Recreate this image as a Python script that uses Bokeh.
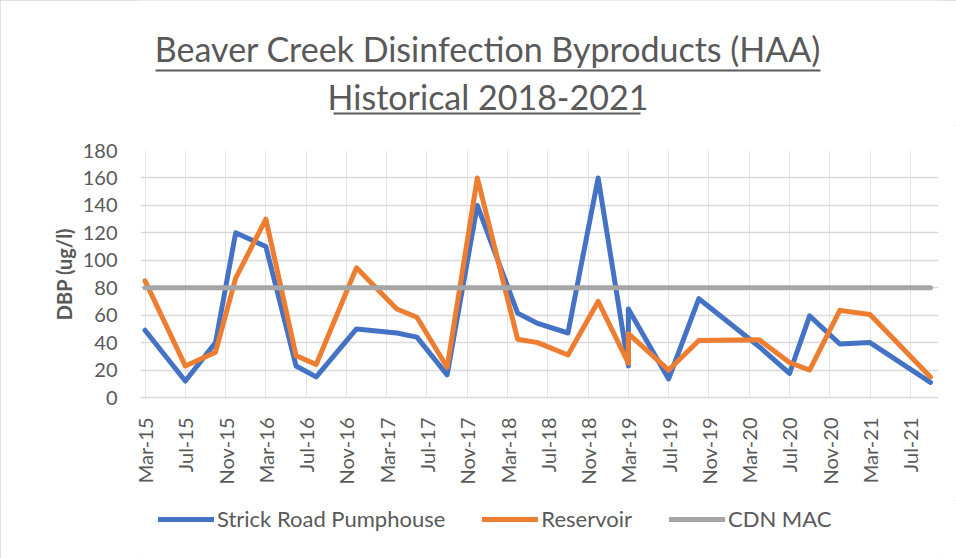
import math
import pandas as pd
from bokeh.plotting import figure
from bokeh.layouts import column
from bokeh.models import (ColumnDataSource, Range1d, FixedTicker, Legend, LegendItem)
from bokeh.core.properties import value
from bokeh.embed import file_html
from bokeh.resources import INLINE

# ---- data ----
dates = ["2015-03", "2015-07", "2015-10", "2015-12", "2016-03", "2016-06", "2016-08", "2016-12",
         "2017-04", "2017-06", "2017-09", "2017-12", "2018-04", "2018-06", "2018-09", "2018-12",
         "2019-03", "2019-03", "2019-07", "2019-10", "2020-04", "2020-07", "2020-09", "2020-12",
         "2021-03", "2021-09"]
strick_road = [49, 12, 40, 120, 110, 23, 15, 50,
               47, 44, 16.5, 140, 61.5, 54, 47, 160,
               23, 64.5, 13.5, 72, 37, 17.5, 59.5, 39,
               40, 11]
reservoir = [85, 23, 33, 87, 130, 30.5, 24, 94.5,
             64.5, 58.5, 22, 160, 42.5, 40, 31, 70,
             25, 46.5, 20, 41.5, 42, 25.5, 20, 63.5,
             60.5, 15]
cdn_mac = [80, 80, 80, 80, 80, 80, 80, 80,
           80, 80, 80, 80, 80, 80, 80, 80,
           80, 80, 80, 80, 80, 80, 80, 80,
           80, 80]
tick_labels = ["Mar-15", "Jul-15", "Nov-15", "Mar-16", "Jul-16", "Nov-16", "Mar-17", "Jul-17",
               "Nov-17", "Mar-18", "Jul-18", "Nov-18", "Mar-19", "Jul-19", "Nov-19", "Mar-20",
               "Jul-20", "Nov-20", "Mar-21", "Jul-21"]
y_ticks = [0, 20, 40, 60, 80, 100, 120, 140, 160, 180]
title_lines = ["Beaver Creek Disinfection Byproducts (HAA)", "Historical 2018-2021"]
series_names = ["Strick Road Pumphouse", "Reservoir", "CDN MAC"]
colors = ["#4472C4", "#ED7D31", "#A5A5A5"]

# month index (Excel date axis with base unit = months)
d = pd.to_datetime(dates, format="%Y-%m")
base = d[0]
month_idx = [(x.year - base.year) * 12 + (x.month - base.month) for x in d]
td = pd.to_datetime(tick_labels, format="%b-%y")
tick_idx = [(x.year - base.year) * 12 + (x.month - base.month) for x in td]

src = ColumnDataSource(dict(m=month_idx, strick=strick_road, res=reservoir, mac=cdn_mac))
series_cols = ["strick", "res", "mac"]

FONT = "Lato"
TXT = "#595959"
W = 956
LEFT, RIGHT = 140, 18
TITLE_H, MAIN_H, LEG_H = 125, 375, 58


def bare(fig):
    fig.outline_line_color = None
    fig.xgrid.grid_line_color = None
    fig.ygrid.grid_line_color = None
    return fig


# ---------- title strip (page pixel coordinates, y downward) ----------
t = bare(figure(width=W, height=TITLE_H, output_backend="svg", toolbar_location=None,
                x_range=Range1d(LEFT, W - RIGHT), y_range=Range1d(TITLE_H, 0),
                min_border_left=LEFT, min_border_right=RIGHT, min_border_top=0,
                min_border_bottom=0, x_axis_type=None, y_axis_type=None))
title_src = ColumnDataSource(dict(x=[487.5, 487.5], y=[48, 96], text=title_lines,
                                  x0=[155, 333], x1=[820, 640], yu=[70, 113]))
t.text(x="x", y="y", text="text", source=title_src, text_align="center",
       text_baseline="middle", text_font=value(FONT), text_font_size="34px",
       text_color=TXT)
t.segment(x0="x0", y0="yu", x1="x1", y1="yu", source=title_src,
          line_color=TXT, line_width=2)

# ---------- main chart ----------
p = figure(width=W, height=MAIN_H, output_backend="svg", toolbar_location=None,
           x_range=Range1d(-0.45, 78.8), y_range=Range1d(0, 180),
           min_border_left=LEFT, min_border_right=RIGHT, min_border_top=25,
           min_border_bottom=103)
p.outline_line_color = None

for col, c in zip(series_cols, colors):
    p.line("m", col, source=src, line_color=c, line_width=5,
           line_cap="round", line_join="round")

p.xaxis.ticker = FixedTicker(ticks=tick_idx)
p.xaxis.major_label_overrides = {t_: l for t_, l in zip(tick_idx, tick_labels)}
p.xaxis.major_label_orientation = math.pi / 2
p.xaxis.major_tick_line_color = None
p.xaxis.minor_tick_line_color = None
p.xaxis.axis_line_color = "#d9d9d9"
p.xaxis.axis_line_width = 1.3
p.xaxis.major_label_standoff = 14
p.xaxis.major_label_text_font = FONT
p.xaxis.major_label_text_font_size = "20px"
p.xaxis.major_label_text_color = TXT

p.yaxis.ticker = FixedTicker(ticks=y_ticks)
p.yaxis.major_tick_line_color = None
p.yaxis.minor_tick_line_color = None
p.yaxis.axis_line_color = None
p.yaxis.major_label_standoff = 17
p.yaxis.major_label_text_font = FONT
p.yaxis.major_label_text_font_size = "20px"
p.yaxis.major_label_text_color = TXT
p.yaxis.axis_label = "DBP (ug/l)"
p.yaxis.axis_label_text_font = FONT
p.yaxis.axis_label_text_font_size = "20px"
p.yaxis.axis_label_text_font_style = "bold"
p.yaxis.axis_label_text_color = TXT
p.yaxis.axis_label_standoff = 4

p.ygrid.grid_line_color = "#d9d9d9"
p.ygrid.grid_line_width = 1.3

# ---------- legend strip (same series, drawn outside its view; only legend shows) ----------
lg = bare(figure(width=W, height=LEG_H, output_backend="svg", toolbar_location=None,
                 x_range=Range1d(0, 1), y_range=Range1d(-10, -9),
                 min_border_left=LEFT, min_border_right=RIGHT, min_border_top=0,
                 min_border_bottom=0, x_axis_type=None, y_axis_type=None))
items = []
for name, col, c in zip(series_names, series_cols, colors):
    rr = lg.line("m", col, source=src, line_color=c, line_width=5, line_cap="round")
    items.append(LegendItem(label=name, renderers=[rr]))
legend = Legend(items=items, orientation="horizontal", location=(18, 26),
                label_text_font=FONT, label_text_font_size="22px", label_text_color=TXT,
                glyph_width=56, glyph_height=20, label_standoff=3, spacing=37,
                padding=0, margin=0, border_line_color=None, background_fill_alpha=0)
lg.add_layout(legend)

layout = column(t, p, lg, spacing=0,
                styles={"outline": "1px solid #d9d9d9", "outline-offset": "-1px"})
open("out.html", "w").write(file_html(layout, INLINE))
